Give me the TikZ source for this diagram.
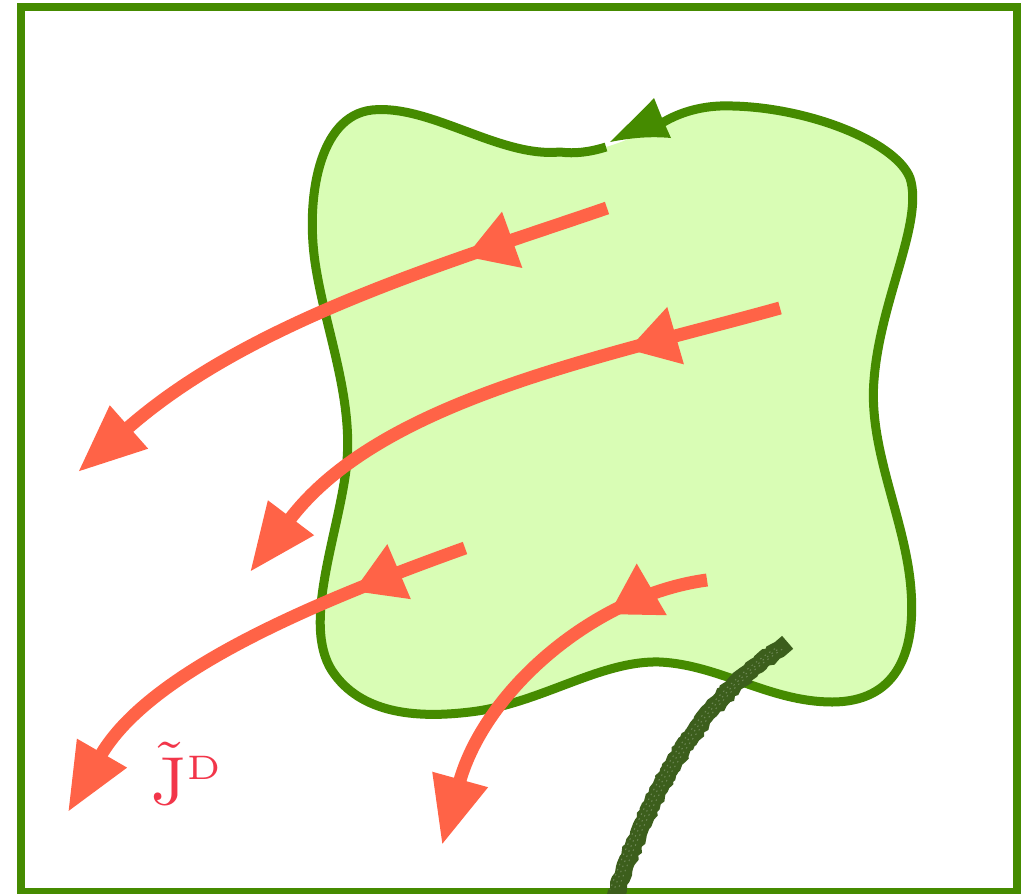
\documentclass[tikz,border=0pt]{standalone}
\usetikzlibrary{arrows.meta,decorations.markings,decorations.pathmorphing}
\definecolor{framegreen}{HTML}{458B00}
\definecolor{blobfill}{HTML}{D9FDB5}
\definecolor{flow}{HTML}{FF6347}
\definecolor{labelred}{HTML}{F2364A}
\definecolor{brushgreen}{HTML}{3C5E1C}
\tikzset{
  flowline/.style={draw=flow, line width=13pt,
    -{Triangle[length=68pt,width=54pt]}},
  midarrow/.style={postaction={decorate},
    decoration={markings, mark=at position #1 with {\arrow[flow]{Triangle[length=50pt,width=56pt]}}}},
  blobline/.style={draw=framegreen, line width=9pt, line join=round, line cap=butt},
}
\begin{document}
\begin{tikzpicture}[x=1pt,y=-1pt]
\useasboundingbox (0,0) rectangle (1036,894);
\fill[white] (0,0) rectangle (1036,894);
% frame
\draw[framegreen, line width=7.5pt] (21,7) rectangle (1017,892);
% blob fill
\fill[blobfill] (606,147)
  .. controls (590,152) and (575,154) .. (560,152)
  .. controls (500,158) and (430,104) .. (372,110)
  .. controls (318,116) and (306,200) .. (315,262)
  .. controls (325,330) and (355,400) .. (346,470)
  .. controls (337,540) and (300,630) .. (335,675)
  .. controls (365,715) and (420,718) .. (470,712)
  .. controls (540,704) and (600,660) .. (660,662)
  .. controls (720,665) and (770,702) .. (832,702)
  .. controls (895,702) and (916,655) .. (911,590)
  .. controls (906,520) and (868,450) .. (874,380)
  .. controls (880,300) and (924,222) .. (910,178)
  .. controls (895,140) and (800,104) .. (720,106)
  .. controls (695,107) and (675,115) .. (662,123)
  .. controls (640,135) and (620,143) .. (606,147) -- cycle;
% blob outline with a gap under the arrowhead
\draw[blobline] (606,147)
  .. controls (590,152) and (575,154) .. (560,152)
  .. controls (500,158) and (430,104) .. (372,110)
  .. controls (318,116) and (306,200) .. (315,262)
  .. controls (325,330) and (355,400) .. (346,470)
  .. controls (337,540) and (300,630) .. (335,675)
  .. controls (365,715) and (420,718) .. (470,712)
  .. controls (540,704) and (600,660) .. (660,662)
  .. controls (720,665) and (770,702) .. (832,702)
  .. controls (895,702) and (916,655) .. (911,590)
  .. controls (906,520) and (868,450) .. (874,380)
  .. controls (880,300) and (924,222) .. (910,178)
  .. controls (895,140) and (800,104) .. (720,106)
  .. controls (695,107) and (675,115) .. (662,123);
% arrowhead on the boundary
\fill[framegreen] (610,142) .. controls (628,124) and (643,110) .. (654,98)
  -- (662,118) -- (671,138) .. controls (650,136) and (630,138) .. (610,142) -- cycle;
% flow lines
\draw[flowline, midarrow=150pt] (607,208) .. controls (450,262) and (250,320) .. (78,472);
\draw[flowline, midarrow=158pt] (780,308) .. controls (600,358) and (380,400) .. (250,572);
\draw[flowline, midarrow=120pt] (465,548) .. controls (320,600) and (150,670) .. (68,812);
\draw[flowline, midarrow=105pt] (707,580) .. controls (595,595) and (485,690) .. (442,845);
% brush stroke
\draw[brushgreen, line width=17pt, line cap=rect,
  decorate, decoration={random steps, segment length=3pt, amplitude=1.2pt}]
  (614,900) .. controls (650,790) and (700,700) .. (781,648);
\foreach \o/\d in {-4/1, 0/3, 4/2}{
  \draw[white, opacity=0.25, line width=1pt, dash pattern=on 1.5pt off 4pt, dash phase=\d pt,
    shift={(\o,0)}]
    (614,890) .. controls (650,790) and (700,700) .. (780,648);
}
% label
\node[text=labelred, scale=6.8, anchor=center, inner sep=0pt] (jlabel) at (188,773)
  {$\tilde{\mathrm{J}}^{\scriptscriptstyle\mathrm{D}}$};
\end{tikzpicture}
\end{document}
